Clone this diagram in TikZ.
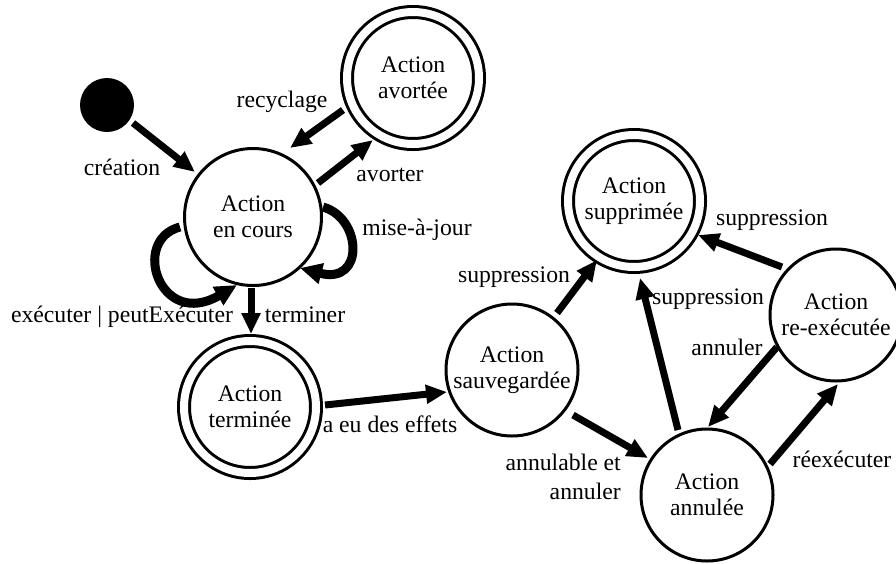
\documentclass[tikz,border=0pt]{standalone}
\usepackage{fontspec}
\setmainfont{Liberation Serif}
\usetikzlibrary{arrows.meta,calc}
\begin{document}
\begin{tikzpicture}[x=1pt,y=-1pt,
  state/.style={circle,draw,line width=3pt,minimum size=132pt,inner sep=0pt,align=center,font=\fontsize{23.7}{26}\selectfont},
  final/.style={state,double,double distance=8pt},
  tr/.style={line width=7pt,-{Triangle[length=21pt,width=18pt]}},
  loopy/.style={line width=9pt,-{Triangle[length=22pt,width=20pt]}},
  lbl/.style={font=\fontsize{23.7}{29}\selectfont,inner sep=0pt}]
\useasboundingbox (0,0) rectangle (896,563);
\node[fill,circle,minimum size=54pt,inner sep=0pt] (init) at (107,105) {};
\node[state,minimum size=137pt] (encours) at (253,217) {Action\\en cours};
\node[final] (avortee) at (413,78) {Action\\avortée};
\node[final] (terminee) at (250,407) {Action\\terminée};
\node[final] (supprimee) at (634,201) {Action\\supprimée};
\node[state] (sauv) at (512,370) {Action\\sauvegardée};
\node[state] (reexec) at (836,315) {Action\\re-exécutée};
\node[state] (annulee) at (707,495) {Action\\annulée};

\draw[tr] ($(init)+(26,18)$) -- ($(encours)+(-58,-45)$);
\draw[tr] ($(avortee)+(-70,32)$) -- ($(encours)+(37,-69)$);
\draw[tr] ($(encours)+(65,-34)$) -- ($(avortee)+(-40,62)$);
\draw[loopy] ($(encours)+(70,-10)$) .. controls ($(encours)+(109,1)$) and ($(encours)+(112,68)$) .. ($(encours)+(47,51)$);
\draw[loopy] ($(encours)+(-73,10)$) .. controls ($(encours)+(-123,23)$) and ($(encours)+(-93,113)$) .. ($(encours)+(-16,68)$);
\draw[tr] ($(encours)+(-2,71)$) -- ($(terminee)+(1,-73)$);
\draw[tr] ($(terminee)+(75,-2)$) -- ($(sauv)+(-65,22)$);
\draw[tr] ($(sauv)+(45,-57)$) -- ($(supprimee)+(-37,59)$);
\draw[tr] ($(sauv)+(61,45)$) -- ($(annulee)+(-59,-37)$);
\draw[tr] ($(annulee)+(-29,-65)$) -- ($(supprimee)+(6,77)$);
\draw[tr] ($(reexec)+(-54,-48)$) -- ($(supprimee)+(64,34)$);
\draw[tr] ($(reexec)+(-59,32)$) -- ($(annulee)+(1,-68)$);
\draw[tr] ($(annulee)+(63,-31)$) -- ($(reexec)+(2,69)$);

\node[lbl] (lcreation) at (122,167) {création};
\node[lbl] (lrecyclage) at (282,102) {recyclage};
\node[lbl] (lavorter) at (390,175) {avorter};
\node[lbl] (lmaj) at (417,230) {mise-à-jour};
\node[lbl] (lexec) at (122,317) {exécuter | peutExécuter};
\node[lbl] (lterminer) at (305,315) {terminer};
\node[lbl] (leffets) at (390,424) {a eu des effets};
\node[lbl] (lsupp1) at (514,277) {suppression};
\node[lbl,align=right,anchor=east] (lannulable) at (621,477) {annulable et\\annuler};
\node[lbl] (lsupp2) at (708,299) {suppression};
\node[lbl] (lsupp3) at (772,220) {suppression};
\node[lbl] (lannuler) at (727,347) {annuler};
\node[lbl] (lreexec) at (842,459) {réexécuter};
\end{tikzpicture}
\end{document}
